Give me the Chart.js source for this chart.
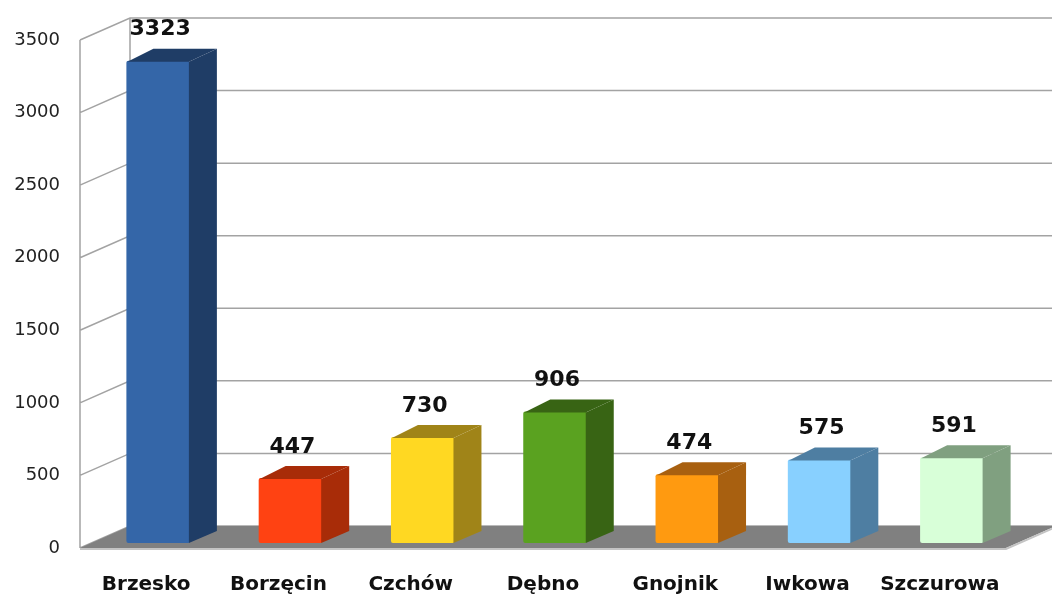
<!DOCTYPE html>
<html>
<head>
<meta charset="utf-8">
<script src="https://cdn.jsdelivr.net/npm/chart.js@4"></script>
<style>
  html, body { margin: 0; padding: 0; background: #fff; }
  #wrap { width: 1052px; height: 598px; }
</style>
</head>
<body>
<div id="wrap"><canvas id="barChart" width="1052" height="598"></canvas></div>
<script>
// Gminy i wartości
const categories = ['Brzesko', 'Borzęcin', 'Czchów', 'Dębno', 'Gnojnik', 'Iwkowa', 'Szczurowa'];
const values = [3323, 447, 730, 906, 474, 575, 591];
const yTicks = [0, 500, 1000, 1500, 2000, 2500, 3000, 3500];

// przód słupka / bok i góra słupka
const frontColors = ['#3466a8', '#ff4212', '#ffd822', '#5aa220', '#ff9a10', '#88d0ff', '#d8ffd8'];
const sideColors = ['#1f3d66', '#a82c08', '#a08418', '#386414', '#a86010', '#4e7ea2', '#80a080'];

// przesunięcia dla efektu 3D
const WALL = { x: 50, y: -22 };
const BAR_SHIFT = { x: 12, y: -5 };
const BAR_DEPTH = { x: 27, y: -12 };

const walls = {
    id: 'walls',
    beforeDatasetsDraw(chart) {
        const { ctx, chartArea: a, scales: { y } } = chart;
        ctx.save();
        ctx.strokeStyle = '#a3a3a3';
        ctx.lineWidth = 1.5;
        ctx.beginPath();
        yTicks.forEach(v => {
            const yf = y.getPixelForValue(v);
            ctx.moveTo(a.left, yf);
            ctx.lineTo(a.left + WALL.x, yf + WALL.y);
            ctx.lineTo(chart.width, yf + WALL.y);
        });
        ctx.moveTo(a.left, a.top);
        ctx.lineTo(a.left, a.bottom);
        ctx.moveTo(a.left + WALL.x, a.top + WALL.y);
        ctx.lineTo(a.left + WALL.x, a.bottom + WALL.y);
        ctx.stroke();

        // podłoga
        ctx.fillStyle = '#808080';
        ctx.beginPath();
        ctx.moveTo(a.left, a.bottom);
        ctx.lineTo(a.right, a.bottom);
        ctx.lineTo(a.right + WALL.x, a.bottom + WALL.y);
        ctx.lineTo(a.left + WALL.x, a.bottom + WALL.y);
        ctx.closePath();
        ctx.fill();
        ctx.strokeStyle = '#c4c4c4';
        ctx.lineWidth = 2;
        ctx.beginPath();
        ctx.moveTo(a.left, a.bottom + 1);
        ctx.lineTo(a.right, a.bottom + 1);
        ctx.lineTo(a.right + WALL.x, a.bottom + WALL.y + 1);
        ctx.stroke();
        ctx.restore();
    },
    beforeDatasetDraw(chart) {
        chart.ctx.save();
        chart.ctx.translate(BAR_SHIFT.x, BAR_SHIFT.y);
    },
    afterDatasetDraw(chart, args) {
        const ctx = chart.ctx;
        args.meta.data.forEach((el, i) => {
            const l = el.x - el.width / 2, r = el.x + el.width / 2;
            ctx.fillStyle = sideColors[i];
            ctx.beginPath();
            ctx.moveTo(r - 1, el.y + 1);
            ctx.lineTo(r + BAR_DEPTH.x, el.y + BAR_DEPTH.y);
            ctx.lineTo(r + BAR_DEPTH.x, el.base + BAR_DEPTH.y);
            ctx.lineTo(r - 1, el.base);
            ctx.closePath();
            ctx.fill();
            ctx.beginPath();
            ctx.moveTo(l + 1, el.y + 1);
            ctx.lineTo(l + BAR_DEPTH.x, el.y + BAR_DEPTH.y);
            ctx.lineTo(r + BAR_DEPTH.x, el.y + BAR_DEPTH.y);
            ctx.lineTo(r - 1, el.y + 1);
            ctx.closePath();
            ctx.fill();
        });
        ctx.restore();
    },
    afterDatasetsDraw(chart) {
        const ctx = chart.ctx;
        const meta = chart.getDatasetMeta(0);
        ctx.save();
        ctx.font = 'bold 22px "DejaVu Sans"';
        ctx.fillStyle = '#111';
        ctx.textAlign = 'center';
        ctx.textBaseline = 'middle';
        meta.data.forEach((el, i) => {
            ctx.fillText(values[i], el.x + BAR_SHIFT.x + 2, el.y + BAR_SHIFT.y + BAR_DEPTH.y - 19);
        });
        ctx.restore();
    }
};

var ctxBar = document.getElementById('barChart').getContext('2d');
var barChart = new Chart(ctxBar, {
    type: 'bar',
    data: {
        labels: categories,
        datasets: [{
            data: values,
            backgroundColor: frontColors,
            borderRadius: 2,
            borderSkipped: false,
            barPercentage: 0.48,
            categoryPercentage: 1.0,
            clip: false
        }]
    },
    options: {
        responsive: false,
        animation: false,
        layout: { padding: { top: 40, right: 46, left: 0, bottom: 0 } },
        plugins: {
            legend: { display: false },
            tooltip: { enabled: false }
        },
        scales: {
            x: {
                grid: { display: false, drawTicks: false },
                border: { display: false },
                ticks: { padding: 25, color: '#111', font: { family: 'DejaVu Sans', size: 20, weight: 'bold' } },
                afterFit(s) { s.height = 50; }
            },
            y: {
                min: 0,
                max: 3500,
                grid: { display: false, drawTicks: false },
                border: { display: false },
                ticks: {
                    stepSize: 500,
                    padding: 20,
                    color: '#222',
                    font: { family: 'DejaVu Sans', size: 18 },
                    callback: v => String(v)
                },
                afterFit(s) { s.width = 80; }
            }
        }
    },
    plugins: [walls]
});
</script>
</body>
</html>
